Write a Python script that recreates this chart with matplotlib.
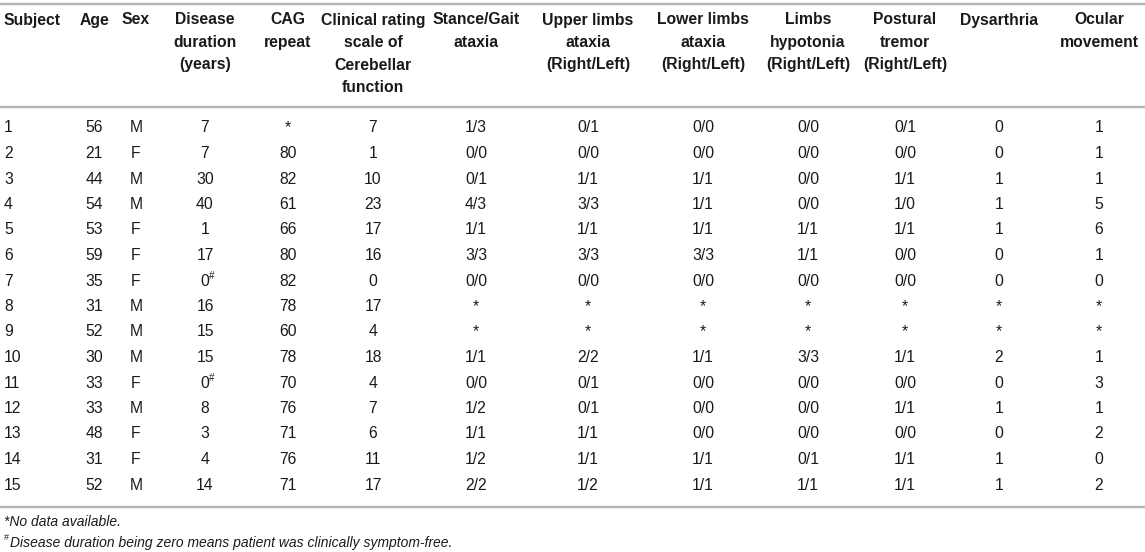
import matplotlib
matplotlib.use("Agg")
import matplotlib.pyplot as plt
from matplotlib.lines import Line2D

plt.rcParams['font.family'] = ['Liberation Sans', 'DejaVu Sans']

# ---- data ----
headers = [
    "Subject", "Age", "Sex", "Disease\nduration\n(years)", "CAG\nrepeat",
    "Clinical rating\nscale of\nCerebellar\nfunction", "Stance/Gait\nataxia",
    "Upper limbs\nataxia\n(Right/Left)", "Lower limbs\nataxia\n(Right/Left)",
    "Limbs\nhypotonia\n(Right/Left)", "Postural\ntremor\n(Right/Left)",
    "Dysarthria", "Ocular\nmovement",
]
subject = [str(i) for i in range(1, 16)]
age = ["56", "21", "44", "54", "53", "59", "35", "31", "52", "30", "33", "33", "48", "31", "52"]
sex = ["M", "F", "M", "M", "F", "F", "F", "M", "M", "M", "F", "M", "F", "F", "M"]
duration = ["7", "7", "30", "40", "1", "17", "0#", "16", "15", "15", "0#", "8", "3", "4", "14"]
cag = ["*", "80", "82", "61", "66", "80", "82", "78", "60", "78", "70", "76", "71", "76", "71"]
crs = ["7", "1", "10", "23", "17", "16", "0", "17", "4", "18", "4", "7", "6", "11", "17"]
stance = ["1/3", "0/0", "0/1", "4/3", "1/1", "3/3", "0/0", "*", "*", "1/1", "0/0", "1/2", "1/1", "1/2", "2/2"]
upper = ["0/1", "0/0", "1/1", "3/3", "1/1", "3/3", "0/0", "*", "*", "2/2", "0/1", "0/1", "1/1", "1/1", "1/2"]
lower = ["0/0", "0/0", "1/1", "1/1", "1/1", "3/3", "0/0", "*", "*", "1/1", "0/0", "0/0", "0/0", "1/1", "1/1"]
hypotonia = ["0/0", "0/0", "0/0", "0/0", "1/1", "1/1", "0/0", "*", "*", "3/3", "0/0", "0/0", "0/0", "0/1", "1/1"]
tremor = ["0/1", "0/0", "1/1", "1/0", "1/1", "0/0", "0/0", "*", "*", "1/1", "0/0", "1/1", "0/0", "1/1", "1/1"]
dysarthria = ["0", "0", "1", "1", "1", "0", "0", "*", "*", "2", "0", "1", "0", "1", "1"]
ocular = ["1", "1", "1", "5", "6", "1", "0", "*", "*", "1", "3", "1", "2", "0", "2"]
footnotes = ["*No data available.", "#Disease duration being zero means patient was clinically symptom-free."]

columns = [subject, age, sex, duration, cag, crs, stance, upper, lower,
           hypotonia, tremor, dysarthria, ocular]

# ---- layout ----
W, H = 1145, 552
col_x = [4, 94, 136, 205, 288, 373, 476, 588, 703, 808, 905, 999, 1099]
col_ha = ["left"] + ["center"] * 12
header_y0 = 20
header_dy = 22.5
row_y0 = 128
row_dy = 25.5
text_color = "#1a1a1a"
line_color = "#b5b5b5"
fs = 11.3

fig = plt.figure(figsize=(W / 100, H / 100), dpi=100)
ax = fig.add_axes([0, 0, 1, 1])
ax.set_xlim(0, W)
ax.set_ylim(H, 0)
ax.axis("off")

for yl in (4, 107, 507):
    ax.add_line(Line2D([0, W], [yl, yl], color=line_color, lw=1.7))

for x, ha, h in zip(col_x, col_ha, headers):
    for k, line in enumerate(h.split("\n")):
        ax.text(x, header_y0 + k * header_dy, line, ha=ha, va="center",
                fontsize=fs, fontweight="bold", color=text_color)

for x, ha, vals in zip(col_x, col_ha, columns):
    for i, v in enumerate(vals):
        y = row_y0 + i * row_dy
        if v.endswith("#"):
            ax.text(x, y, v[:-1], ha=ha, va="center", fontsize=fs, color=text_color)
            ax.text(x + 4, y - 5, "#", ha="left", va="center", fontsize=7, color=text_color)
        else:
            ax.text(x, y, v, ha=ha, va="center", fontsize=fs, color=text_color)

# footnotes
ax.text(4, 522, footnotes[0], ha="left", va="center", fontsize=10,
        style="italic", color=text_color)
ax.text(4, 538, "#", ha="left", va="center", fontsize=6.5, color=text_color)
ax.text(10, 543, footnotes[1][1:], ha="left", va="center", fontsize=10,
        style="italic", color=text_color)

fig.savefig("out.png", dpi=100)
